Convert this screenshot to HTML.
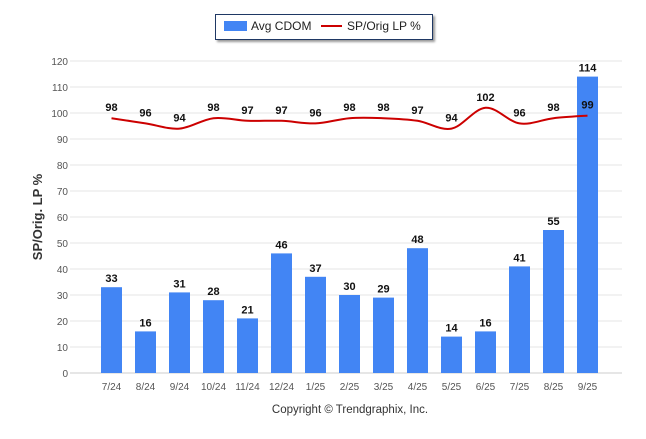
<!DOCTYPE html>
<html><head><meta charset="utf-8"><style>
body{margin:0;background:#fff;font-family:"Liberation Sans",Arial,sans-serif}
svg text{font-family:"Liberation Sans",Arial,sans-serif}
</style></head><body>
<svg id="c" width="646" height="434" xmlns="http://www.w3.org/2000/svg">
<g>
<rect x="215.5" y="14.5" width="217" height="25" fill="#fff" stroke="#1f3864" stroke-width="1" style="filter:drop-shadow(2px 2px 1px #999)"/>
<rect x="224" y="21" width="23" height="10" fill="#4285f4"/>
<text x="251" y="30" font-size="12" fill="#222">Avg CDOM</text>
<line x1="321" y1="26" x2="342" y2="26" stroke="#cc0000" stroke-width="2"/>
<text x="347" y="30" font-size="12" fill="#222">SP/Orig LP %</text>
</g>
<text transform="translate(42,217) rotate(-90)" text-anchor="middle" font-size="13" font-weight="bold" fill="#333">SP/Orig. LP %</text>
<text x="350" y="413" text-anchor="middle" font-size="11.5" fill="#333">Copyright © Trendgraphix, Inc.</text>
<g id="grid"></g><g id="bars"></g><g id="line"></g><g id="labels"></g>
</svg>
<script>
const categories=["7/24","8/24","9/24","10/24","11/24","12/24","1/25","2/25","3/25","4/25","5/25","6/25","7/25","8/25","9/25"];
const cdom=[33,16,31,28,21,46,37,30,29,48,14,16,41,55,114];
const sp=[98,96,94,98,97,97,96,98,98,97,94,102,96,98,99];
const yTicks=[0,10,20,30,40,50,60,70,80,90,100,110,120];
const NS="http://www.w3.org/2000/svg";
const y=v=>373-v*2.6;
const x=i=>111.5+34*i;
function mk(t,a,p){const e=document.createElementNS(NS,t);for(const k in a)e.setAttribute(k,a[k]);p.appendChild(e);return e;}
const grid=document.getElementById('grid');
yTicks.forEach(v=>{
 const l=mk('line',{x1:70,x2:622,y1:y(v),y2:y(v),stroke:v===0?'#ccc':'#e6e6e6','stroke-width':1},grid);
 
 
 const t=mk('text',{x:68,y:y(v)+4,'text-anchor':'end','font-size':10,fill:'#555'},grid);t.textContent=v;
 
 
});
const bars=document.getElementById('bars'),labels=document.getElementById('labels');
categories.forEach((c,i)=>{
 const b=mk('rect',{x:x(i)-10.5,y:y(cdom[i]),width:21,height:373-y(cdom[i]),fill:'#4285f4'},bars);
 
 
 const t=mk('text',{x:x(i),y:y(cdom[i])-5,'text-anchor':'middle','font-size':11,'font-weight':'bold',fill:'#111'},labels);t.textContent=cdom[i];
 
 
 const s=mk('text',{x:x(i),y:y(sp[i])-7,'text-anchor':'middle','font-size':11,'font-weight':'bold',fill:'#111'},labels);s.textContent=sp[i];
 
 
 const xl=mk('text',{x:x(i),y:390,'text-anchor':'middle','font-size':10,fill:'#555'},labels);xl.textContent=c;
 
 
});
const P=sp.map((v,i)=>[x(i),y(v)]);
let d='M'+P[0][0]+','+P[0][1];
for(let i=0;i<P.length-1;i++){
 const p0=P[Math.max(0,i-1)],p1=P[i],p2=P[i+1],p3=P[Math.min(P.length-1,i+2)];
 const k=1/6;
 d+=` C${p1[0]+(p2[0]-p0[0])*k},${p1[1]+(p2[1]-p0[1])*k} ${p2[0]-(p3[0]-p1[0])*k},${p2[1]-(p3[1]-p1[1])*k} ${p2[0]},${p2[1]}`;
}
const p=mk('path',{d:d,fill:'none',stroke:'#cc0000','stroke-width':2},document.getElementById('line'));


</script>
</body></html>
